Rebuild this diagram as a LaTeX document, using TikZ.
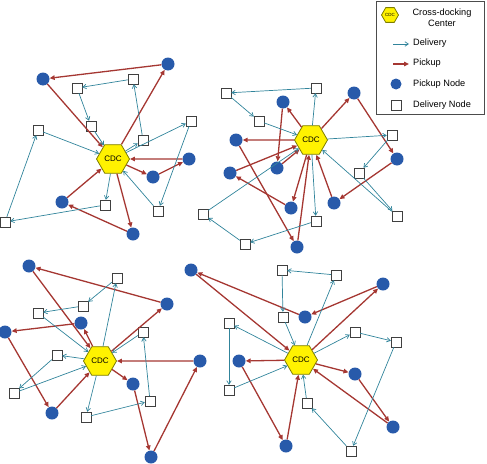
\documentclass[tikz,border=0pt]{standalone}
\usepackage{fontspec}
\setmainfont{Liberation Sans}
\usetikzlibrary{shapes.geometric, arrows.meta}
\definecolor{delblue}{RGB}{49,132,155}
\definecolor{pickred}{RGB}{165,55,50}
\definecolor{nodeblue}{RGB}{40,90,170}
\definecolor{cdcedge}{RGB}{125,125,0}

\begin{document}
\begin{tikzpicture}[
    x=1pt, y=-1pt,
    cdc/.style={regular polygon, regular polygon sides=6, draw=cdcedge, fill=yellow, thick, inner sep=0pt, minimum size=33pt, font=\fontsize{8}{8}\selectfont},
    pnode/.style={circle, fill=nodeblue, inner sep=0pt, minimum size=13pt},
    dnode/.style={rectangle, draw=black!75, fill=white, inner sep=0pt, minimum size=10pt},
    dlv/.style={-{Straight Barb[length=3.5pt,width=4.5pt]}, delblue, line width=0.7pt},
    pck/.style={-{Triangle[length=5pt,width=4.5pt]}, pickred, line width=1.3pt},
    lbl/.style={anchor=west, inner sep=0pt, font=\fontsize{9.2}{11}\selectfont}
]
    \useasboundingbox (0,0) rectangle (487,463);

    % Top left network
    \node[cdc] (cdcA) at (113,159) {CDC};
    \node[pnode] (pA1) at (43,79) {};
    \node[pnode] (pA2) at (168,64) {};
    \node[dnode] (dA1) at (77,88) {};
    \node[dnode] (dA2) at (133,79) {};
    \node[dnode] (dA3) at (91,126) {};
    \node[dnode] (dA4) at (38,130) {};
    \node[dnode] (dA5) at (143,140) {};
    \node[dnode] (dA6) at (191,121) {};
    \node[pnode] (pA3) at (189,159) {};
    \node[pnode] (pA4) at (153,177) {};
    \node[dnode] (dA7) at (158,211) {};
    \node[pnode] (pA5) at (62,202) {};
    \node[dnode] (dA8) at (105,205) {};
    \node[dnode] (dA9) at (5,222) {};
    \node[pnode] (pA6) at (133,234) {};

    \draw[pck] (pA2) -- (pA1); \draw[pck] (pA1) -- (cdcA); \draw[pck] (cdcA) -- (pA2);
    \draw[pck] (pA3) -- (cdcA); \draw[pck] (cdcA) -- (pA4); \draw[pck] (pA4) -- (pA3);
    \draw[pck] (cdcA) -- (pA6); \draw[pck] (pA6) -- (pA5); \draw[pck] (pA5) -- (cdcA);
    \draw[dlv] (cdcA) -- (dA5); \draw[dlv] (dA5) -- (dA2); \draw[dlv] (dA2) -- (dA1);
    \draw[dlv] (dA1) -- (dA3); \draw[dlv] (dA3) -- (cdcA);
    \draw[dlv] (cdcA) -- (dA8); \draw[dlv] (dA8) -- (dA9); \draw[dlv] (dA9) -- (dA4); \draw[dlv] (dA4) -- (cdcA);
    \draw[dlv] (cdcA) -- (dA6); \draw[dlv] (dA6) -- (dA7); \draw[dlv] (dA7) -- (cdcA);

    % Top right network
    \node[cdc] (cdcB) at (311,140) {CDC};
    \node[dnode] (dB1) at (226,93) {};
    \node[dnode] (dB2) at (316,88) {};
    \node[pnode] (pB1) at (283,102) {};
    \node[pnode] (pB2) at (354,93) {};
    \node[dnode] (dB3) at (259,121) {};
    \node[pnode] (pB3) at (236,140) {};
    \node[dnode] (dB4) at (392,135) {};
    \node[pnode] (pB4) at (397,159) {};
    \node[pnode] (pB5) at (277,168) {};
    \node[pnode] (pB6) at (230,173) {};
    \node[dnode] (dB5) at (359,173) {};
    \node[pnode] (pB7) at (291,208) {};
    \node[pnode] (pB8) at (334,203) {};
    \node[dnode] (dB6) at (203,214) {};
    \node[dnode] (dB7) at (316,221) {};
    \node[dnode] (dB8) at (397,216) {};
    \node[dnode] (dB9) at (245,244) {};
    \node[pnode] (pB9) at (297,247) {};

    \draw[pck] (cdcB) -- (pB1); \draw[pck] (pB1) -- (pB5); \draw[pck] (pB5) -- (cdcB);
    \draw[pck] (cdcB) -- (pB3); \draw[pck] (pB3) -- (pB9); \draw[pck] (pB9) -- (cdcB);
    \draw[pck] (pB6) -- (cdcB); \draw[pck] (cdcB) -- (pB7); \draw[pck] (pB7) -- (pB6);
    \draw[pck] (cdcB) -- (pB2); \draw[pck] (pB2) -- (pB4); \draw[pck] (pB4) -- (pB8); \draw[pck] (pB8) -- (cdcB);
    \draw[dlv] (cdcB) -- (dB2); \draw[dlv] (dB2) -- (dB1); \draw[dlv] (dB1) -- (dB3); \draw[dlv] (dB3) -- (cdcB);
    \draw[dlv] (cdcB) -- (dB4); \draw[dlv] (dB4) -- (dB5); \draw[dlv] (dB5) -- (dB8); \draw[dlv] (dB8) -- (cdcB);
    \draw[dlv] (cdcB) -- (dB7); \draw[dlv] (dB7) -- (dB9); \draw[dlv] (dB9) -- (dB6); \draw[dlv] (dB6) -- (cdcB);

    % Bottom left network
    \node[cdc] (cdcC) at (100,361) {CDC};
    \node[pnode] (pC1) at (29,266) {};
    \node[dnode] (dC1) at (117,278) {};
    \node[dnode] (dC2) at (83,306) {};
    \node[pnode] (pC2) at (167,304) {};
    \node[dnode] (dC3) at (38,313) {};
    \node[pnode] (pC3) at (81,323) {};
    \node[pnode] (pC4) at (5,332) {};
    \node[dnode] (dC4) at (143,332) {};
    \node[dnode] (dC5) at (57,355) {};
    \node[pnode] (pC5) at (200,361) {};
    \node[dnode] (dC6) at (14,393) {};
    \node[pnode] (pC6) at (133,384) {};
    \node[dnode] (dC7) at (150,401) {};
    \node[pnode] (pC7) at (52,413) {};
    \node[dnode] (dC8) at (86,417) {};
    \node[pnode] (pC8) at (151,457) {};

    \draw[pck] (pC2) -- (pC1); \draw[pck] (pC1) -- (cdcC); \draw[pck] (cdcC) -- (pC2);
    \draw[pck] (cdcC) -- (pC3); \draw[pck] (pC3) -- (pC4); \draw[pck] (pC4) -- (pC7); \draw[pck] (pC7) -- (cdcC);
    \draw[pck] (pC5) -- (cdcC); \draw[pck] (cdcC) -- (pC6); \draw[pck] (pC6) -- (pC8); \draw[pck] (pC8) -- (pC5);
    \draw[dlv] (cdcC) -- (dC1); \draw[dlv] (dC1) -- (dC2); \draw[dlv] (dC2) -- (dC3); \draw[dlv] (dC3) -- (cdcC);
    \draw[dlv] (cdcC) -- (dC8); \draw[dlv] (dC8) -- (dC7); \draw[dlv] (dC7) -- (dC4); \draw[dlv] (dC4) -- (cdcC);
    \draw[dlv] (cdcC) -- (dC5); \draw[dlv] (dC5) -- (dC6); \draw[dlv] (dC6) -- (cdcC);

    % Bottom right network
    \node[cdc] (cdcD) at (301,360) {CDC};
    \node[pnode] (pD0) at (191,270) {};
    \node[dnode] (dD1) at (282,270) {};
    \node[dnode] (dD2) at (336,275) {};
    \node[pnode] (pD1) at (383,284) {};
    \node[dnode] (dD3) at (283,317) {};
    \node[pnode] (pD2) at (305,317) {};
    \node[dnode] (dD4) at (229,323) {};
    \node[dnode] (dD5) at (355,332) {};
    \node[dnode] (dD6) at (396,342) {};
    \node[pnode] (pD3) at (239,361) {};
    \node[pnode] (pD4) at (355,374) {};
    \node[dnode] (dD7) at (229,390) {};
    \node[dnode] (dD8) at (307,403) {};
    \node[pnode] (pD5) at (393,427) {};
    \node[pnode] (pD6) at (286,446) {};
    \node[dnode] (dD9) at (351,451) {};

    \draw[pck] (pD2) -- (pD0); \draw[pck] (pD0) -- (cdcD); \draw[pck] (cdcD) -- (pD1); \draw[pck] (pD1) -- (pD2);
    \draw[pck] (cdcD) -- (pD3); \draw[pck] (pD3) -- (pD6); \draw[pck] (pD6) -- (cdcD);
    \draw[pck] (cdcD) -- (pD4); \draw[pck] (pD4) -- (pD5); \draw[pck] (pD5) -- (cdcD);
    \draw[dlv] (cdcD) -- (dD2); \draw[dlv] (dD2) -- (dD1); \draw[dlv] (dD1) -- (dD3); \draw[dlv] (dD3) -- (cdcD);
    \draw[dlv] (cdcD) -- (dD4); \draw[dlv] (dD4) -- (dD7); \draw[dlv] (dD7) -- (cdcD);
    \draw[dlv] (cdcD) -- (dD5); \draw[dlv] (dD5) -- (dD6); \draw[dlv] (dD6) -- (dD9); \draw[dlv] (dD9) -- (dD8); \draw[dlv] (dD8) -- (cdcD);

    % Legend
    \node[draw=black!70, inner sep=0pt, minimum width=108pt, minimum height=113pt] (legend) at (430,57.5) {};
    \node[cdc, minimum size=17pt, font=\fontsize{4.5}{5}\selectfont] (keyhub) at (390,15) {CDC};
    \node[align=center, inner sep=0pt, font=\fontsize{9.2}{11}\selectfont] (keyhubtext) at (442,18) {Cross-docking\\Center};
    \coordinate (keydelA) at (393,44);
    \coordinate (keydelB) at (409,44);
    \draw[dlv] (keydelA) -- (keydelB);
    \node[lbl] (keydeltext) at (413,43) {Delivery};
    \coordinate (keypckA) at (393,64);
    \coordinate (keypckB) at (409,64);
    \draw[pck] (keypckA) -- (keypckB);
    \node[lbl] (keypcktext) at (413,63) {Pickup};
    \node[pnode, minimum size=11pt] (keypnode) at (396,84) {};
    \node[lbl] (keypnodetext) at (413,84) {Pickup Node};
    \node[dnode] (keydnode) at (396,105) {};
    \node[lbl] (keydnodetext) at (413,105) {Delivery Node};
\end{tikzpicture}
\end{document}
